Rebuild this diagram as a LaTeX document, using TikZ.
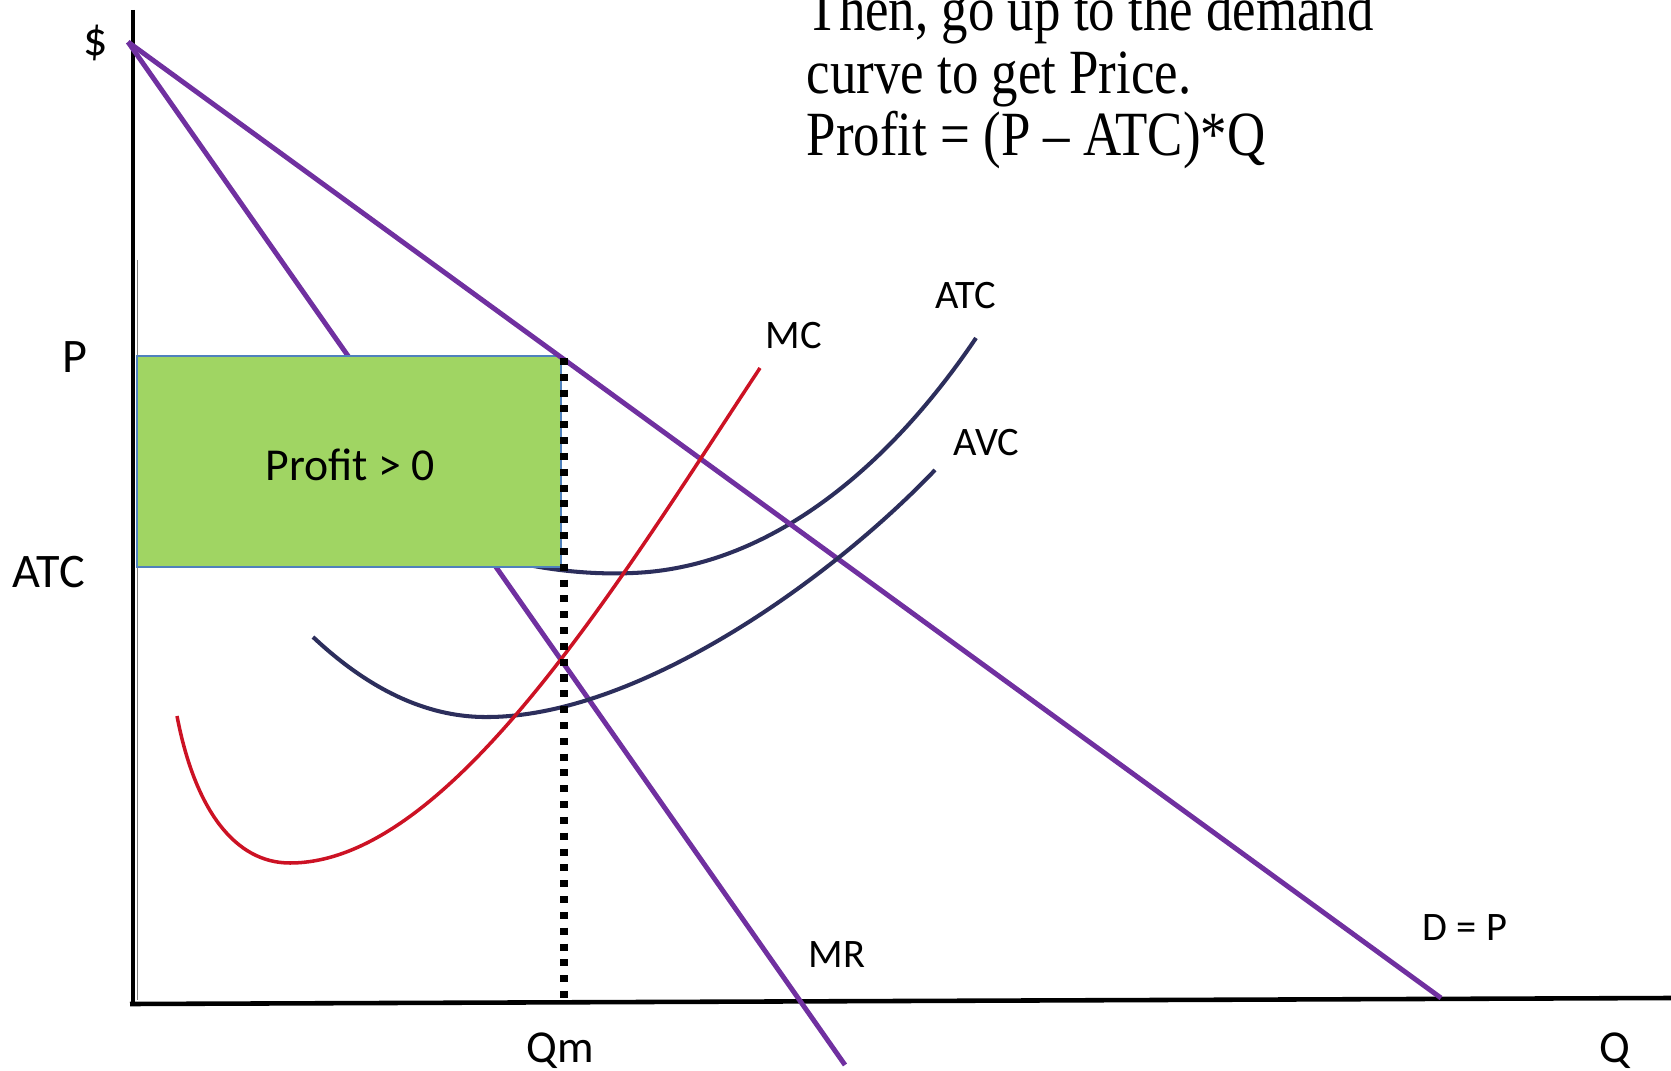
\documentclass[tikz,border=0pt]{standalone}
\usepackage{fontspec}
\setmainfont{Liberation Serif}
\setsansfont{Carlito}
\newfontfamily\notefont[FakeStretch=0.84,Ligatures=TeX]{Liberation Serif}
\usepackage{xcolor}
\usetikzlibrary{positioning}
\definecolor{mktPurple}{RGB}{112,48,160}
\definecolor{mktRed}{RGB}{204,18,36}
\definecolor{mktNavy}{RGB}{44,46,92}
\definecolor{mktGreen}{RGB}{160,213,99}
\definecolor{mktEdge}{RGB}{79,129,189}

\begin{document}
\begin{tikzpicture}[
  x=0.01cm, y=-0.01cm,
  font=\sffamily,
  axis/.style={line width=1.3pt,draw=black},
  demand/.style={line width=1.4pt,draw=mktPurple},
  costcurve/.style={line width=1.15pt,draw=mktNavy},
  mccurve/.style={line width=1pt,draw=mktRed},
  profitbox/.style={fill=mktGreen,draw=mktEdge,line width=0.6pt},
  qmline/.style={line width=2pt,dash pattern=on 2pt off 2.5pt},
  axislabel/.style={anchor=base west,inner sep=0pt,font=\sffamily\fontsize{13.7}{16}\selectfont},
  curvelabel/.style={anchor=base west,inner sep=0pt,font=\sffamily\fontsize{11.5}{14}\selectfont},
  qlabelstyle/.style={curvelabel,font=\sffamily\fontsize{13}{15}\selectfont},
  note/.style={anchor=base west,inner sep=0pt,align=left,font=\notefont\fontsize{17.9}{17.8}\selectfont}
]
\useasboundingbox (0,0) rectangle (1671,1071);

% axes
\coordinate (ytop) at (133,10);
\coordinate (origin) at (133,1004);
\coordinate (xleft) at (130,1004);
\coordinate (xright) at (1671,998);
\draw[axis] (ytop) -- (origin);
\draw[axis] (xleft) -- (xright);
\draw[gray,line width=0.4pt] (137.5,260) -- (137.5,1000);

% demand and marginal revenue
\coordinate (apex) at (128,42);
\coordinate (dend) at (1441,998);
\coordinate (mrend) at (845,1065);
\draw[demand] (apex) -- (mrend);

% ATC (starts under the box)
\draw[costcurve] (490,556) .. controls (540,570) and (590,575) .. (633,573)
  .. controls (760,568) and (880,480) .. (976,338);

% profit area
\coordinate (boxtl) at (137,356);
\coordinate (boxbr) at (561,567);
\draw[profitbox] (boxtl) rectangle (boxbr);
\node[anchor=base,inner sep=0pt,font=\sffamily\fontsize{13}{15}\selectfont] (profit) at (350,481) {Profit > 0};

\draw[demand] (apex) -- (dend);

% AVC and MC
\draw[costcurve] (313,637) .. controls (380,700) and (440,718) .. (490,717)
  .. controls (640,715) and (830,580) .. (935,470);
\draw[mccurve] (177,716) .. controls (195,810) and (235,863) .. (290,863)
  .. controls (450,863) and (620,580) .. (760,368);

% quantity line
\coordinate (qmtop) at (564,358);
\coordinate (qmfoot) at (564,1000);
\draw[qmline] (qmtop) -- (qmfoot);

% labels
\node[axislabel] (dollar) at (83,56) {\$};
\node[axislabel] (plabel) at (62,373) {P};
\node[axislabel] (atcaxis) at (12,588) {ATC};
\node[curvelabel] (mclabel) at (765,349) {MC};
\node[curvelabel] (atclabel) at (935,309) {ATC};
\node[curvelabel] (avclabel) at (953,456) {AVC};
\node[curvelabel] (dlabel) at (1422,940) {D = P};
\node[curvelabel] (mrlabel) at (808,967) {MR};
\node[qlabelstyle] (qmlabel) at (526,1062) {Qm};
\node[qlabelstyle] (qlabel) at (1599,1062) {Q};

\node[note] (rule) at (806,156) {Then, go up to the demand\\curve to get Price.\\Profit = (P~–~ATC)*Q};

\end{tikzpicture}
\end{document}
